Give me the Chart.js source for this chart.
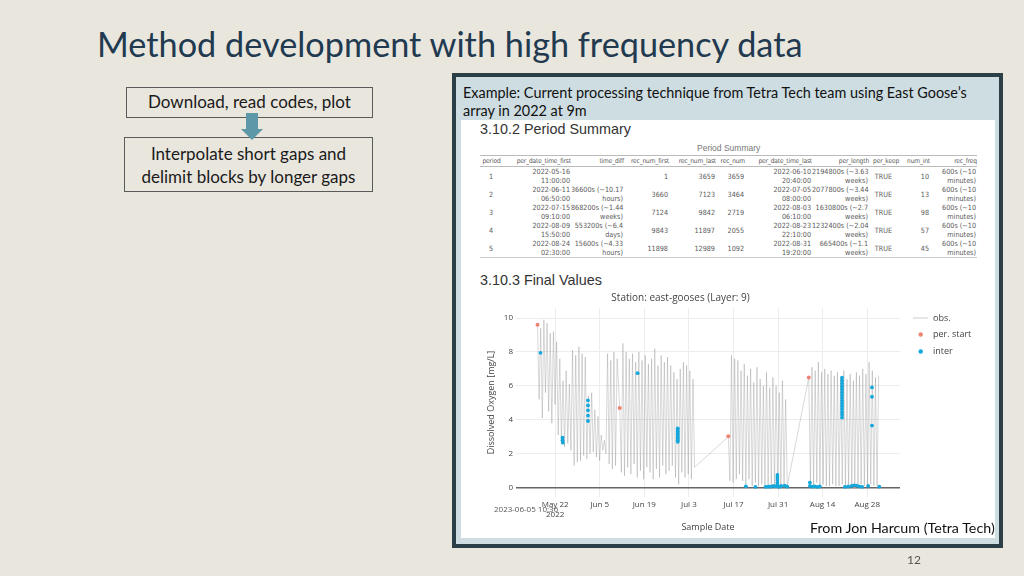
<!DOCTYPE html>
<html>
<head>
<meta charset="utf-8">
<script src="https://cdn.jsdelivr.net/npm/chart.js@4.4.0/dist/chart.umd.min.js"></script>
<style>
  body { margin: 0; width: 1024px; height: 576px; background: #e9e6dd; position: relative; overflow: hidden; font-family: Lato, "Open Sans", sans-serif; }
  .abs { position: absolute; white-space: nowrap; line-height: 1; }
  #title { left: 97px; top: 27px; font-size: 34px; color: #223a50; }
  .box { position: absolute; border: 1.5px solid #5a5a5a; box-sizing: border-box; text-align: center; color: #1a1a1a; font-size: 17px; }
  #box1 { left: 126px; top: 87px; width: 247px; height: 31px; line-height: 28px; }
  #box2 { left: 124px; top: 137px; width: 249px; height: 55px; line-height: 23px; padding-top: 4px; }
  #shaft { position: absolute; left: 246px; top: 113px; width: 12px; height: 17px; background: #5d98a8; }
  #head { position: absolute; left: 241px; top: 129px; width: 0; height: 0; border-left: 11px solid transparent; border-right: 11px solid transparent; border-top: 11px solid #5d98a8; }
  #panel { position: absolute; left: 452px; top: 73px; width: 551px; height: 475px; box-sizing: border-box; border: 4px solid #2c3e46; background: #cddde1; }
  #white { position: absolute; left: 461px; top: 120px; width: 534px; height: 418px; background: #fff; }
  #ex { left: 463px; top: 84px; font-size: 13.5px; color: #111; line-height: 18px; }
  .h3 { font-family: "Liberation Sans", Arial, sans-serif; color: #333; font-size: 15px; }
  #ps { left: 480px; top: 122px; }
  #fv { left: 480px; top: 273px; }
  #cap { left: 697px; top: 144px; font-family: "Liberation Sans", Arial, sans-serif; font-size: 8.5px; color: #777; }
  table { position: absolute; left: 480px; top: 155px; width: 497px; border-collapse: collapse; table-layout: fixed;
          font-family: "DejaVu Sans Condensed", "Liberation Sans Narrow", sans-serif; font-size: 7.2px; color: #5a5a5a; }
  th { font-weight: normal; text-align: right; border-top: 1px solid #bbb; border-bottom: 1px solid #bbb; height: 10px;
       padding: 0; white-space: nowrap; font-size: 6.6px; letter-spacing: -0.15px; overflow: visible; }
  td { text-align: right; height: 18px; padding: 0 1px 0 0; line-height: 9px; white-space: nowrap; }
  tr:last-child td { border-bottom: 1.5px solid #ccc; }
  .c { text-align: center; }
  #chartWrap { position: absolute; left: 461px; top: 285px; width: 534px; height: 253px; }
  #stamp { left: 494px; top: 505px; font-family: "Open Sans", sans-serif; font-size: 8px; color: #555; }
  #src { left: 810px; top: 521px; font-size: 14px; color: #111; }
  #pg { left: 907px; top: 554px; font-size: 12px; color: #555; }
</style>
</head>
<body>
<div id="title" class="abs">Method development with high frequency data</div>
<div id="box1" class="box">Download, read codes, plot</div>
<div id="box2" class="box">Interpolate short gaps and<br>delimit blocks by longer gaps</div>
<div id="shaft"></div>
<div id="head"></div>

<div id="panel"></div>
<div id="white"></div>
<div id="ex" class="abs">Example: Current processing technique from Tetra Tech team using East Goose’s<br>array in 2022 at 9m</div>
<div id="ps" class="abs h3">3.10.2 Period Summary</div>
<div id="cap" class="abs">Period Summary</div>
<table id="tbl">
  <colgroup>
    <col style="width:23px"><col style="width:68px"><col style="width:53px"><col style="width:45px">
    <col style="width:47px"><col style="width:29px"><col style="width:67px"><col style="width:57px">
    <col style="width:30px"><col style="width:31px"><col style="width:47px">
  </colgroup>
  <thead><tr id="hdr"></tr></thead>
  <tbody id="rows"></tbody>
</table>
<div id="fv" class="abs h3">3.10.3 Final Values</div>
<div id="chartWrap"><canvas id="doChart" width="534" height="253"></canvas></div>
<div id="stamp" class="abs">2023-06-05 10:36</div>
<div id="src" class="abs">From Jon Harcum (Tetra Tech)</div>
<div id="pg" class="abs">12</div>

<script>
// period summary table
const columns = ["period", "per_date_time_first", "time_diff", "rec_num_first", "rec_num_last", "rec_num",
    "per_date_time_last", "per_length", "per_keep", "num_int", "rec_freq"];
const perFirst = ["2022-05-16 11:00:00", "2022-06-11 06:50:00", "2022-07-15 09:10:00", "2022-08-09 15:50:00", "2022-08-24 02:30:00"];
const timeDiff = ["", "36600s (~10.17 hours)", "868200s (~1.44 weeks)", "553200s (~6.4 days)", "15600s (~4.33 hours)"];
const recFirst = [1, 3660, 7124, 9843, 11898];
const recLast = [3659, 7123, 9842, 11897, 12989];
const recNum = [3659, 3464, 2719, 2055, 1092];
const perLast = ["2022-06-10 20:40:00", "2022-07-05 08:00:00", "2022-08-03 06:10:00", "2022-08-23 22:10:00", "2022-08-31 19:20:00"];
const perLength = ["2194800s (~3.63 weeks)", "2077800s (~3.44 weeks)", "1630800s (~2.7 weeks)", "1232400s (~2.04 weeks)", "665400s (~1.1 weeks)"];
const perKeep = ["TRUE", "TRUE", "TRUE", "TRUE", "TRUE"];
const numInt = [10, 13, 98, 57, 45];
const recFreq = ["600s (~10 minutes)", "600s (~10 minutes)", "600s (~10 minutes)", "600s (~10 minutes)", "600s (~10 minutes)"];

// chart data: dissolved oxygen (mg/L)
const tickDates = ["2022-05-22", "2022-06-05", "2022-06-19", "2022-07-03", "2022-07-17", "2022-07-31", "2022-08-14", "2022-08-28"];
const tickLabels = ["May 22", "Jun 5", "Jun 19", "Jul 3", "Jul 17", "Jul 31", "Aug 14", "Aug 28"];
const yTicks = [0, 2, 4, 6, 8, 10];

// observations, one value every 12 hours from each period start
const obsP1 = [9.6, 5.2, 9.4, 4.1, 9.9, 5.6, 9.7, 4.5, 9.1, 3.8, 9.2, 4.9, 8.6, 3.1, 7.6, 2.8, 6.3, 2.4, 6.9, 2.6,
    6.1, 2.2, 8.1, 1.3, 7.8, 1.5, 8.3, 1.6, 7.9, 1.9, 7.7, 1.7, 5.4, 2.0, 5.6, 2.1, 4.6, 1.8, 4.2, 1.6,
    3.1, 2.2, 2.8, 2.0, 7.9, 1.4, 7.5, 1.1, 8.0, 1.3, 7.6];
const obsP2 = [4.7, 0.9, 8.5, 0.7, 8.0, 1.2, 7.6, 0.8, 7.9, 1.4, 7.4, 0.6, 8.0, 1.0, 7.5, 0.5, 7.8, 1.2, 7.3, 0.9,
    7.6, 0.5, 8.2, 1.1, 7.2, 0.6, 7.8, 1.3, 7.4, 0.8, 7.7, 1.0, 7.2, 1.3, 6.8, 0.6, 6.4, 0.2, 7.0, 0.9,
    7.4, 0.6, 7.2, 0.8, 6.9, 0.5, 6.4, 1.2];
const obsP3 = [3.0, 0.4, 7.8, 0.3, 7.6, 0.5, 7.5, 0.8, 6.9, 0.4, 7.3, 0.2, 6.6, 0.5, 7.0, 0.1, 6.2, 0.3, 7.1, 0.1,
    6.4, 0.2, 6.0, 0.1, 6.8, 0.2, 5.9, 0.1, 6.5, 0.1, 6.0, 0.2, 5.6, 0.1, 6.3, 0.1, 5.2, 0.1];
const obsP4 = [6.5, 0.2, 7.1, 0.1, 6.9, 0.3, 7.4, 0.1, 6.8, 0.2, 7.0, 0.1, 6.7, 0.1, 6.9, 0.2, 6.6, 0.1, 6.8, 0.1,
    6.5, 0.2, 6.9, 0.1, 6.4, 0.1, 6.7, 0.1, 6.3];
const obsP5 = [0.1, 6.8, 0.1, 6.6, 0.2, 7.0, 0.1, 6.7, 0.1, 7.4, 0.2, 6.9, 0.1, 6.5, 0.1, 6.6];

// first value of each period
const startDO = [9.6, 4.7, 3.03, 6.5, 0.1];

// interpolated values, day counted from May 22 2022
const interDay = [-4.6, 2.3, 2.3, 2.4, 10.3, 10.3, 10.3, 10.3, 10.3, 25.9,
    38.5, 38.5, 38.5, 38.5, 38.5, 38.5, 38.5, 38.5, 38.5,
    59.9, 62.9, 66.1, 66.9, 67.6, 68.5, 69.2, 69.8, 69.8, 69.8, 69.8, 69.8, 69.8, 70.3, 71.0, 72.1, 72.9,
    80.0, 80.0, 80.8, 81.5, 82.3, 83.1,
    90.1, 90.1, 90.1, 90.1, 90.1, 90.1, 90.1, 90.1, 90.1, 90.1, 90.1, 90.1, 90.1, 90.1, 90.1,
    91.0, 92.0, 93.1, 93.9, 94.6, 95.5, 96.4, 98.3, 99.5, 99.5, 99.5, 101.8];
const interDO = [7.95, 2.95, 2.8, 2.65, 5.15, 4.85, 4.56, 4.25, 3.93, 6.75,
    3.5, 3.4, 3.3, 3.2, 3.1, 3.0, 2.9, 2.8, 2.7,
    0.08, 0.05, 0.05, 0.07, 0.06, 0.1, 0.08, 0.75, 0.6, 0.45, 0.3, 0.18, 0.08, 0.05, 0.1, 0.12, 0.06,
    0.3, 0.1, 0.06, 0.08, 0.05, 0.07,
    6.48, 6.31, 6.14, 5.97, 5.8, 5.63, 5.46, 5.3, 5.13, 4.96, 4.8, 4.63, 4.46, 4.3, 4.13,
    0.05, 0.07, 0.1, 0.14, 0.12, 0.08, 0.05, 0.1, 5.91, 5.36, 3.66, 0.06];

// ---------- table ----------
function twoLines(s) {
    const i = s.lastIndexOf(" ");
    return i < 0 ? s : s.slice(0, i) + "<br>" + s.slice(i + 1);
}

function renderTable() {
    document.getElementById("hdr").innerHTML = columns
        .map((c, i) => `<th${i === 0 ? ' class="c"' : ''}>${c}</th>`).join("");
    const body = document.getElementById("rows");
    perFirst.forEach((f, i) => {
        const tr = document.createElement("tr");
        tr.innerHTML = `
            <td class="c">${i + 1}</td>
            <td>${twoLines(f)}</td>
            <td>${twoLines(timeDiff[i])}</td>
            <td>${recFirst[i]}</td>
            <td>${recLast[i]}</td>
            <td>${recNum[i]}</td>
            <td>${twoLines(perLast[i])}</td>
            <td>${twoLines(perLength[i])}</td>
            <td class="c">${perKeep[i]}</td>
            <td>${numInt[i]}</td>
            <td>${twoLines(recFreq[i])}</td>`;
        body.appendChild(tr);
    });
}

// scale text so it spans the width seen on the slide
function fitWidth(id, w) {
    const el = document.getElementById(id);
    const fs = parseFloat(getComputedStyle(el).fontSize);
    el.style.fontSize = (fs * w / el.getBoundingClientRect().width) + "px";
}

// ---------- chart ----------
const origin = Date.UTC(2022, 4, 22);
function toDay(s) {
    const [d, t] = s.split(" ");
    const [y, m, dd] = d.split("-").map(Number);
    const [hh, mm] = (t || "00:00").split(":").map(Number);
    return (Date.UTC(y, m - 1, dd, hh, mm) - origin) / 86400000;
}

function buildObs() {
    const pts = [];
    [obsP1, obsP2, obsP3, obsP4, obsP5].forEach((vals, p) => {
        const d0 = toDay(perFirst[p]);
        vals.forEach((v, i) => pts.push({ x: d0 + i * 0.5, y: v }));
    });
    return pts;
}

const sideLegend = {
    id: "sideLegend",
    afterDraw(chart) {
        const c = chart.ctx;
        const x0 = chart.chartArea.right;
        const y0 = chart.chartArea.top;
        const rows = [10, 26.5, 43.5];
        c.save();
        c.font = "9px 'Open Sans', sans-serif";
        c.textBaseline = "middle";
        chart.data.datasets.forEach((ds, i) => {
            const y = y0 + rows[i];
            if (i === 0) {
                c.strokeStyle = "#cccccc";
                c.lineWidth = 1;
                c.beginPath(); c.moveTo(x0 + 13, y); c.lineTo(x0 + 28, y); c.stroke();
            } else {
                c.fillStyle = ds.backgroundColor;
                c.beginPath(); c.arc(x0 + 20.7, y, 2.2, 0, Math.PI * 2); c.fill();
            }
            c.fillStyle = "#444";
            c.fillText(ds.label, x0 + 33, y);
        });
        c.restore();
    }
};

function renderChart() {
    Chart.defaults.font.family = "'Open Sans', 'DejaVu Sans', sans-serif";
    Chart.defaults.color = "#444";
    const tickDays = tickDates.map(toDay);

    new Chart(document.getElementById("doChart"), {
        type: "line",
        data: {
            datasets: [
                { label: "obs.", data: buildObs(), borderColor: "rgba(120,120,120,0.36)", borderWidth: 0.8,
                  pointRadius: 0, tension: 0, order: 3 },
                { label: "per. start", type: "scatter", data: perFirst.map((f, i) => ({ x: toDay(f), y: startDO[i] })),
                  backgroundColor: "#ef8473", borderWidth: 0, pointRadius: 2, order: 2 },
                { label: "inter", type: "scatter", data: interDay.map((d, i) => ({ x: d, y: interDO[i] })),
                  backgroundColor: "#14a7dc", borderWidth: 0, pointRadius: 1.9, order: 1 }
            ]
        },
        options: {
            responsive: false,
            animation: false,
            devicePixelRatio: 1,
            layout: { padding: { left: 0, right: 95, top: 0, bottom: 0 } },
            plugins: {
                legend: { display: false },
                tooltip: { enabled: false },
                title: { display: true, text: "Station: east-gooses (Layer: 9)", color: "#444",
                         font: { size: 10, weight: "normal" }, padding: { top: 7, bottom: 4 } }
            },
            scales: {
                x: {
                    type: "linear", min: -12.3, max: 108.3,
                    afterBuildTicks: s => { s.ticks = tickDays.map(v => ({ value: v })); },
                    afterFit: s => { s.height = 41; },
                    ticks: { autoSkip: false, maxRotation: 0, padding: 3, font: { size: 8 },
                             callback: (v, i) => i === 0 ? [tickLabels[0], "2022"] : tickLabels[i] },
                    grid: { color: "#ececec", drawTicks: false },
                    border: { display: false },
                    title: { display: true, text: "Sample Date", font: { size: 9 }, padding: { top: 0, bottom: 5 } }
                },
                y: {
                    min: -0.55, max: 10.59,
                    afterBuildTicks: s => { s.ticks = yTicks.map(v => ({ value: v })); },
                    afterFit: s => { s.width = 55; },
                    ticks: { padding: 3, font: { size: 8 } },
                    grid: { color: c => c.tick.value === 0 ? "#666" : "#ececec",
                            lineWidth: c => c.tick.value === 0 ? 1.6 : 1, drawTicks: false },
                    border: { display: false },
                    title: { display: true, text: "Dissolved Oxygen [mg/L]", font: { size: 9 }, padding: { top: 25 } }
                }
            }
        },
        plugins: [sideLegend]
    });
}

window.onload = () => {
    renderTable();
    fitWidth("title", 706);
    fitWidth("ex", 504);
    fitWidth("ps", 151);
    fitWidth("fv", 122);
    fitWidth("src", 185);
    renderChart();
};
</script>
</body>
</html>
